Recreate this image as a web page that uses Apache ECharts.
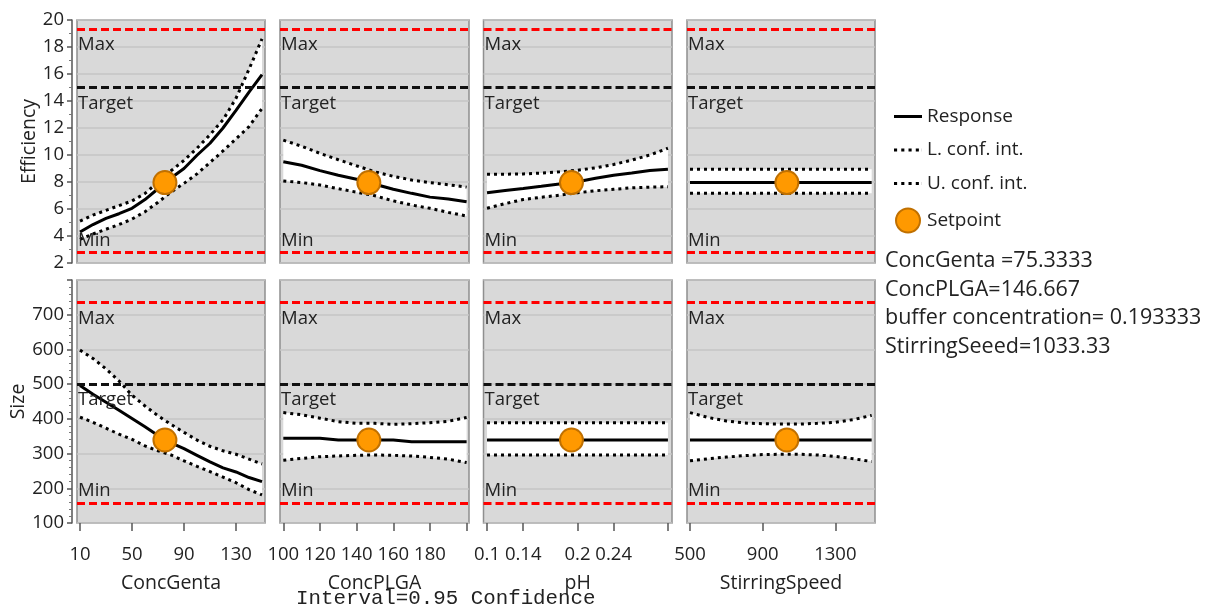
<!DOCTYPE html>
<html><head><meta charset="utf-8">
<script src="https://cdn.jsdelivr.net/npm/echarts@6/dist/echarts.min.js"></script>
<style>html,body{margin:0;padding:0;background:#fff}#c{width:1209px;height:612px}</style>
</head><body><div id="c"></div>
<script>
// ---------- data ----------
const factorNames = ['ConcGenta', 'ConcPLGA', 'pH', 'StirringSpeed'];
const responseNames = ['Efficiency', 'Size'];
const setpoints = [75.3333, 146.667, 0.193333, 1033.33];
const setpointResponse = [7.96, 339];

const gentaX = [10, 20, 30, 40, 50, 60, 70, 80, 90, 100, 110, 120, 130, 140, 150];
const plgaX = [100, 110, 120, 130, 140, 150, 160, 170, 180, 190, 200];
const phX = [0.10, 0.12, 0.14, 0.16, 0.18, 0.20, 0.22, 0.24, 0.26, 0.28, 0.30];
const stirX = [500, 600, 700, 800, 900, 1000, 1100, 1200, 1300, 1400, 1500];

// Efficiency
const effGentaResp = [4.3, 4.85, 5.3, 5.65, 6.05, 6.7, 7.5, 8.3, 9.0, 9.98, 10.87, 12.0, 13.3, 14.66, 15.95];
const effGentaUpper = [5.1, 5.55, 5.9, 6.25, 6.6, 7.15, 7.98, 8.83, 9.6, 10.5, 11.5, 12.6, 14.2, 16.35, 18.6];
const effGentaLower = [3.75, 4.15, 4.5, 4.85, 5.25, 5.8, 6.5, 7.25, 7.9, 8.6, 9.45, 10.3, 11.2, 12.1, 13.45];
const effPlgaResp = [9.5, 9.24, 8.84, 8.5, 8.2, 7.83, 7.46, 7.16, 6.88, 6.74, 6.53];
const effPlgaUpper = [11.1, 10.65, 10.12, 9.65, 9.2, 8.75, 8.42, 8.15, 7.95, 7.8, 7.62];
const effPlgaLower = [8.07, 7.96, 7.78, 7.5, 7.25, 6.98, 6.6, 6.3, 6.05, 5.75, 5.48];
const effPhResp = [7.2, 7.37, 7.52, 7.68, 7.85, 8.02, 8.28, 8.5, 8.66, 8.85, 8.94];
const effPhUpper = [8.57, 8.58, 8.6, 8.66, 8.75, 8.87, 9.05, 9.3, 9.62, 10.0, 10.5];
const effPhLower = [6.05, 6.4, 6.7, 6.87, 7.02, 7.2, 7.35, 7.46, 7.57, 7.62, 7.65];
const effStirResp = [7.96, 7.96, 7.96, 7.96, 7.96, 7.96, 7.96, 7.96, 7.96, 7.96, 7.96];
const effStirUpper = [8.94, 8.94, 8.94, 8.94, 8.94, 8.94, 8.94, 8.94, 8.94, 8.94, 8.94];
const effStirLower = [7.16, 7.16, 7.16, 7.16, 7.16, 7.16, 7.16, 7.16, 7.16, 7.16, 7.16];

// Size
const sizeGentaResp = [496, 471, 448, 425, 401, 377, 352, 331, 314, 295, 276, 259, 247, 231, 219];
const sizeGentaUpper = [598, 574, 544, 509, 468, 437, 409, 384, 361, 339, 321, 308, 298, 284, 270];
const sizeGentaLower = [405, 390, 373, 356, 341, 322, 308, 296, 279, 263, 248, 232, 216, 196, 181];
const sizePlgaResp = [344, 344, 344, 339, 339, 339, 339, 334, 334, 334, 334];
const sizePlgaUpper = [418, 412, 402, 392, 387, 387, 384, 386, 389, 393, 404];
const sizePlgaLower = [281, 286, 291, 293, 295, 296, 295, 293, 289, 284, 274];
const sizePhResp = [339, 339, 339, 339, 339, 339, 339, 339, 339, 339, 339];
const sizePhUpper = [389, 389, 389, 389, 389, 389, 389, 389, 389, 389, 389];
const sizePhLower = [296, 296, 296, 296, 296, 296, 296, 296, 296, 296, 296];
const sizeStirResp = [339, 339, 339, 339, 339, 339, 339, 339, 339, 339, 339];
const sizeStirUpper = [418, 404, 394, 388, 386, 385, 385, 387, 390, 398, 410];
const sizeStirLower = [279, 285, 290, 294, 297, 298, 298, 296, 292, 285, 277];

// desirability limits: [Max, Target, Min]
const effLimits = [19.3, 15, 2.8];
const sizeLimits = [736, 500, 158];
const limitLabels = ['Max', 'Target', 'Min'];

// tick labels / ticks
const gentaTicks = [10, 50, 90, 130];
const gentaTickLabels = [10, 50, 90, 130];
const plgaTicks = [100, 120, 140, 160, 180, 200];
const plgaTickLabels = [100, 120, 140, 160, 180];
const phTicks = [0.1, 0.14, 0.2, 0.24, 0.3];
const phTickLabels = [0.1, 0.14, 0.2, 0.24];
const stirTicks = [500, 900, 1300];
const stirTickLabels = [500, 900, 1300];

const legendNames = ['Response', 'L. conf. int.', 'U. conf. int.', 'Setpoint'];
const infoLines = ['ConcGenta =75.3333', 'ConcPLGA=146.667', 'buffer concentration= 0.193333', 'StirringSeeed=1033.33'];
const footText = 'Interval=0.95 Confidence';

// ---------- layout ----------
const FONT = 'Open Sans';
const TXT = '#222';
const colLeft = [77, 280, 483.5, 687];
const colWidth = [188, 189, 188.5, 188];
const rowTop = [20, 280];
const rowHeight = 243;
const xRanges = [[7.7, 152.3], [98.2, 201.3], [0.0961, 0.3045], [483.5, 1518.3]];
const yRanges = [{min: 2, max: 20, interval: 2, minor: 2}, {min: 100, max: 800, interval: 100, minor: 5}];

const factorX = [gentaX, plgaX, phX, stirX];
const ticksX = [gentaTicks, plgaTicks, phTicks, stirTicks];
const labelsX = [gentaTickLabels, plgaTickLabels, phTickLabels, stirTickLabels];
const resp = [[effGentaResp, effPlgaResp, effPhResp, effStirResp], [sizeGentaResp, sizePlgaResp, sizePhResp, sizeStirResp]];
const upper = [[effGentaUpper, effPlgaUpper, effPhUpper, effStirUpper], [sizeGentaUpper, sizePlgaUpper, sizePhUpper, sizeStirUpper]];
const lower = [[effGentaLower, effPlgaLower, effPhLower, effStirLower], [sizeGentaLower, sizePlgaLower, sizePhLower, sizeStirLower]];
const limits = [effLimits, sizeLimits];
const limitPos = ['insideStartBottom', 'insideStartBottom', 'insideStartTop'];
const limitDist = [[[1, 6], [1, 7], [1, 2]], [[1, 7], [1, 6], [1, 3]]];

const grids = [], xAxes = [], yAxes = [], series = [];
const pair = (xs, ys) => xs.map((x, i) => [x, ys[i]]);

for (let r = 0; r < 2; r++) {
  for (let c = 0; c < 4; c++) {
    const gi = r * 4 + c;
    grids.push({
      left: colLeft[c], top: rowTop[r], width: colWidth[c], height: rowHeight,
      show: true, backgroundColor: '#d9d9d9', borderColor: '#8f8f8f', borderWidth: 1.5
    });
    const bottomRow = r === 1;
    xAxes.push({
      type: 'value', gridIndex: gi, min: xRanges[c][0], max: xRanges[c][1],
      show: bottomRow,
      name: bottomRow ? factorNames[c] : '',
      nameLocation: 'middle', nameGap: 50,
      nameTextStyle: {fontFamily: FONT, fontSize: 19.5, color: TXT},
      axisLine: {show: false},
      axisTick: {show: true, length: 8, customValues: ticksX[c], lineStyle: {color: '#555', width: 1.5}},
      axisLabel: {show: true, customValues: labelsX[c], margin: 22, fontFamily: FONT, fontSize: 18.5, color: TXT,
        formatter: v => String(v)},
      splitLine: {show: false}
    });
    const yr = yRanges[r];
    const firstCol = c === 0;
    yAxes.push({
      type: 'value', gridIndex: gi, min: yr.min, max: yr.max, interval: yr.interval,
      offset: firstCol ? 5 : 0,
      name: firstCol ? responseNames[r] : '',
      nameLocation: 'middle', nameGap: r === 0 ? 33 : 44,
      nameTextStyle: {fontFamily: FONT, fontSize: 19.5, color: TXT},
      axisLine: {show: firstCol, lineStyle: {color: '#555', width: 1.5}},
      axisTick: {show: firstCol, length: 5, lineStyle: {color: '#555', width: 1.5}},
      minorTick: {show: firstCol, splitNumber: yr.minor, length: 3, lineStyle: {color: '#777', width: 1}},
      axisLabel: {show: firstCol, margin: 8, fontFamily: FONT, fontSize: 18.5, color: TXT, showMaxLabel: r === 0},
      splitLine: {show: true, lineStyle: {color: '#c4c4c4', width: 1.5}}
    });

    const xs = factorX[c], hi = upper[r][c], lo = lower[r][c], rs = resp[r][c];
    // confidence band (white)
    series.push({
      type: 'custom', name: 'band', xAxisIndex: gi, yAxisIndex: gi, silent: true, z: 1,
      animation: false,
      data: [[xs[0], lo[0]]],
      renderItem: (params, api) => {
        const pts = [];
        for (let i = 0; i < xs.length; i++) pts.push(api.coord([xs[i], hi[i]]));
        for (let i = xs.length - 1; i >= 0; i--) pts.push(api.coord([xs[i], lo[i]]));
        return {type: 'polygon', shape: {points: pts}, style: {fill: '#ffffff'}};
      }
    });
    series.push({
      type: 'line', name: legendNames[2], xAxisIndex: gi, yAxisIndex: gi, symbol: 'none', z: 3,
      animation: false, silent: true, itemStyle: {color: '#000'},
      lineStyle: {color: '#000', width: 3, type: [3, 4]}, data: pair(xs, hi)
    });
    series.push({
      type: 'line', name: legendNames[1], xAxisIndex: gi, yAxisIndex: gi, symbol: 'none', z: 3,
      animation: false, silent: true, itemStyle: {color: '#000'},
      lineStyle: {color: '#000', width: 3, type: [3, 4]}, data: pair(xs, lo)
    });
    series.push({
      type: 'line', name: legendNames[0], xAxisIndex: gi, yAxisIndex: gi, symbol: 'none', z: 4,
      animation: false, silent: true, itemStyle: {color: '#000'},
      lineStyle: {color: '#000', width: 3, type: 'solid'}, data: pair(xs, rs),
      markLine: {
        silent: true, symbol: 'none', animation: false,
        data: limits[r].map((v, k) => ({
          yAxis: v,
          lineStyle: {color: k === 1 ? '#111' : '#f00', width: 3.2, type: [8, 4]},
          label: {show: true, formatter: limitLabels[k], position: limitPos[k], distance: limitDist[r][k],
            fontFamily: FONT, fontSize: 18.5, color: TXT}
        }))
      }
    });
    series.push({
      type: 'scatter', name: legendNames[3], xAxisIndex: gi, yAxisIndex: gi, z: 6,
      animation: false, silent: true, symbolSize: 23,
      itemStyle: {color: '#ff9900', borderColor: '#c07000', borderWidth: 2, opacity: 1},
      data: [[setpoints[c], setpointResponse[r]]]
    });
  }
}

const solidIcon = 'path://M0,0h28v3h-28z';
const dotIcon = 'path://M1,0h3v3h-3zM8,0h3v3h-3zM15,0h3v3h-3zM22,0h3v3h-3zM27.9,0h0.1v3h-0.1z';

const option = {
  animation: false,
  backgroundColor: '#fff',
  textStyle: {fontFamily: FONT},
  grid: grids, xAxis: xAxes, yAxis: yAxes, series: series,
  legend: {
    data: [
      {name: legendNames[0], icon: solidIcon, itemStyle: {color: '#000', borderWidth: 0}},
      {name: legendNames[1], icon: dotIcon, itemStyle: {color: '#000', borderWidth: 0}},
      {name: legendNames[2], icon: dotIcon, itemStyle: {color: '#000', borderWidth: 0}},
      {name: legendNames[3], icon: 'circle'}
    ],
    orient: 'vertical', left: 894, top: 107, padding: 0,
    itemWidth: 28, itemHeight: 24, itemGap: 14.5,
    textStyle: {fontFamily: FONT, fontSize: 19, color: TXT},
    selectedMode: false
  },
  title: [
    {text: infoLines.join('\n'), left: 885, top: 247, padding: 0,
      textStyle: {fontFamily: FONT, fontSize: 21.5, fontWeight: 'normal', color: TXT, lineHeight: 28.5}},
    {text: footText, left: 296, top: 588, padding: 0,
      textStyle: {fontFamily: 'Liberation Mono', fontSize: 20.8, fontWeight: 'normal', color: TXT}}
  ]
};
const chart = echarts.init(document.getElementById('c'), null, {renderer: 'canvas'});
chart.setOption(option);
</script></body></html>
